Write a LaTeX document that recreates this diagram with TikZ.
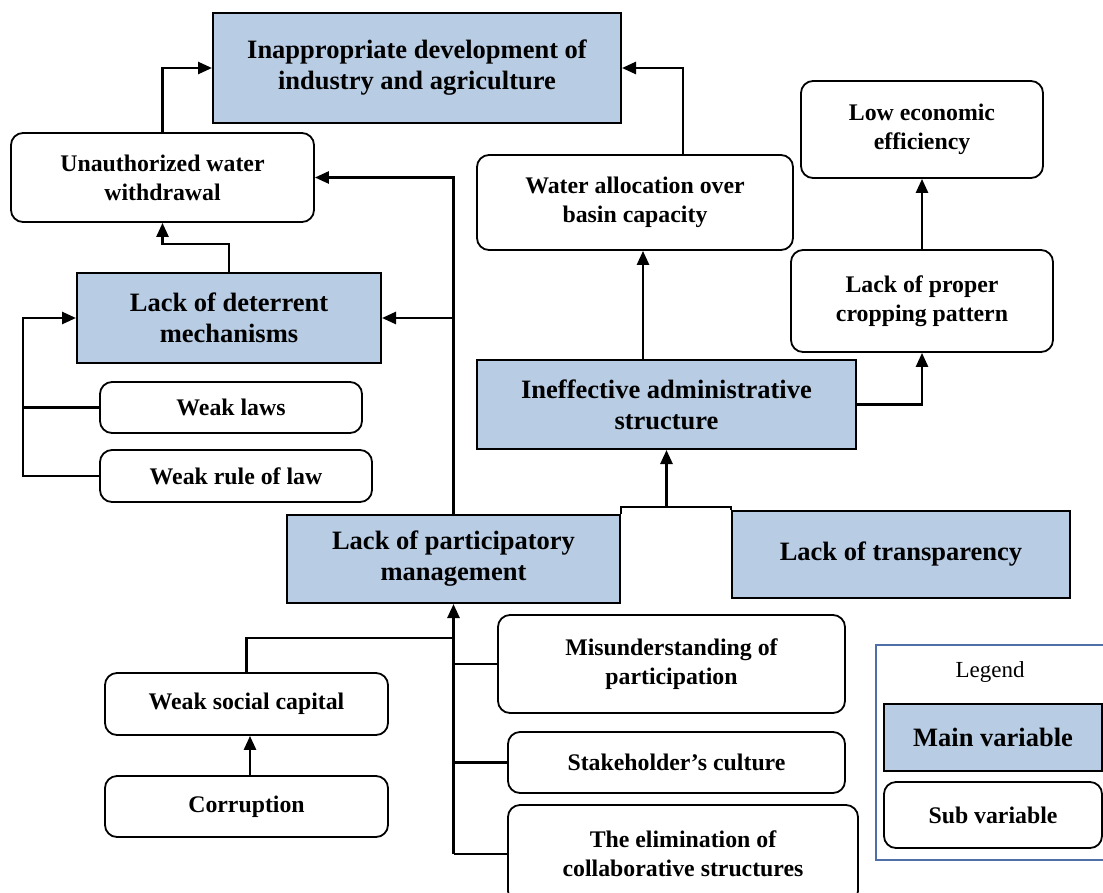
\documentclass[tikz,border=0pt]{standalone}
\usepackage{fontspec}
\setmainfont{Liberation Serif}
\usetikzlibrary{arrows.meta,calc}
\definecolor{mainblue}{HTML}{B8CCE4}
\definecolor{legblue}{HTML}{4F6FA8}
\begin{document}
\begin{tikzpicture}[x=1pt,y=-1pt,
  mainbox/.style={draw=black, line width=2pt, fill=mainblue, inner sep=0pt, align=center,
    font=\fontsize{26.5}{31}\selectfont\bfseries},
  subbox/.style={draw=black, line width=1.8pt, fill=white, rounded corners=12pt, inner sep=0pt, align=center,
    font=\fontsize{23.8}{29}\selectfont\bfseries},
  conn/.style={line width=2.6pt, black},
  arr/.style={conn, -{Triangle[length=14pt,width=12pt]}},
]
\useasboundingbox (0,0) rectangle (1103,892);

% main variables
\node[mainbox, minimum width=408pt, minimum height=110pt] (inap) at (417,68) {Inappropriate development of\\industry and agriculture};
\node[mainbox, minimum width=304pt, minimum height=90pt] (deter) at (229,318) {Lack of deterrent\\mechanisms};
\node[mainbox, minimum width=379pt, minimum height=89pt] (ineff) at (666.5,404.5) {Ineffective administrative\\structure};
\node[mainbox, minimum width=333pt, minimum height=88pt] (partic) at (453.5,559) {Lack of participatory\\management};
\node[mainbox, minimum width=338pt, minimum height=87pt] (transp) at (901,554.5) {Lack of transparency};

% sub variables
\node[subbox, minimum width=303pt, minimum height=89pt] (unauth) at (162.5,177.5) {Unauthorized water\\withdrawal};
\node[subbox, minimum width=316pt, minimum height=95pt] (water) at (635,202.5) {Water allocation over\\basin capacity};
\node[subbox, minimum width=242pt, minimum height=97pt] (loweco) at (922,129.5) {Low economic\\efficiency};
\node[subbox, minimum width=262pt, minimum height=102pt] (crop) at (922,301) {Lack of proper\\cropping pattern};
\node[subbox, minimum width=262pt, minimum height=51pt] (wlaws) at (231,407.5) {Weak laws};
\node[subbox, minimum width=272pt, minimum height=52pt] (wrule) at (236,476) {Weak rule of law};
\node[subbox, minimum width=283pt, minimum height=62pt] (social) at (246.5,704) {Weak social capital};
\node[subbox, minimum width=283pt, minimum height=61pt] (corrupt) at (246.5,806.5) {Corruption};
\node[subbox, minimum width=347pt, minimum height=98pt] (misund) at (671.5,664) {Misunderstanding of\\participation};
\node[subbox, minimum width=337pt, minimum height=61pt] (stake) at (676.5,762.5) {Stakeholder’s culture};
\node[subbox, minimum width=350pt, minimum height=98pt] (elim) at (683,854) {The elimination of\\collaborative structures};

% legend
\draw[legblue, line width=1.6pt] (876,645) rectangle (1110,860);
\node[font=\fontsize{23}{27}\selectfont] (legtitle) at (990,672) {Legend};
\node[mainbox, minimum width=218pt, minimum height=67pt] (legmain) at (993,737.5) {Main variable};
\node[subbox, minimum width=218pt, minimum height=66pt] (legsub) at (993,815) {Sub variable};

% connectors
\draw[arr] (unauth.north) |- (inap.west);
\draw[arr] ([xshift=48pt]water.north) |- (inap.east);
\draw[arr] (crop.north) -- (loweco.south);
\draw[arr] ([xshift=-23.5pt]ineff.north) -- ([xshift=8pt]water.south);
\draw[arr] (ineff.east) -| (crop.south);
\draw[arr] (deter.north) -- ++(0,-28) -| (unauth.south);

\coordinate (lbus) at (23,318);
\draw[arr] (wrule.west) -| (lbus) -- (deter.west);
\draw[conn] (wlaws.west) -- (wlaws.west -| lbus);

\draw[arr] (partic.north) |- (unauth.east);
\draw[arr] (partic.north |- deter.east) -- (deter.east);

\coordinate (jn) at (666.5,507);
\draw[conn] (partic.north east) |- (jn) -| (transp.north west);
\draw[arr] (jn) -- (ineff.south);

\coordinate (bbot) at (453.5,854);
\draw[arr] (bbot) -- (partic.south);
\draw[conn] (misund.west) -- (misund.west -| bbot);
\draw[conn] (stake.west) -- (stake.west -| bbot);
\draw[conn] (elim.west) -- (bbot);
\draw[conn] (social.north) |- ([yshift=-34pt]partic.south);
\draw[arr] ([xshift=3.5pt]corrupt.north) -- ([xshift=3.5pt]social.south);
\end{tikzpicture}
\end{document}
